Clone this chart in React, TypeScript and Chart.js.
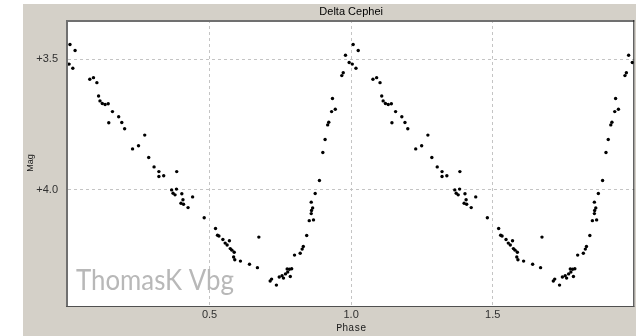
import React, { useEffect, useRef } from "react";
import { Chart, registerables } from "chart.js";

Chart.register(...registerables);

const TITLE = "Delta Cephei";
const X_LABEL = "Phase";
const Y_LABEL = "Mag";
const WATERMARK = "ThomasK Vbg";
const X_TICKS = [0.5, 1.0, 1.5];
const Y_TICKS = [3.5, 4.0];

// one folded cycle; plotted at phase and phase + 1
const phases = [
  0.007, 0.025, 0.004, 0.017, 0.077, 0.090, 0.102, 0.108, 0.113, 0.121,
  0.131, 0.142, 0.157, 0.144, 0.179, 0.190, 0.200, 0.271, 0.249, 0.228,
  0.285, 0.304, 0.321, 0.321, 0.338, 0.384, 0.366, 0.383, 0.371, 0.378,
  0.402, 0.406, 0.399, 0.408, 0.440, 0.424, 0.481, 0.521, 0.528, 0.533,
  0.547, 0.555, 0.570, 0.562, 0.573, 0.579, 0.587, 0.585, 0.589, 0.609,
  0.641, 0.669, 0.674, 0.714, 0.719, 0.736, 0.746, 0.756, 0.761, 0.768,
  0.776, 0.782, 0.790, 0.785, 0.774, 0.800, 0.820, 0.827, 0.831, 0.843,
  0.852, 0.867, 0.859, 0.860, 0.864, 0.859, 0.873, 0.888, 0.900, 0.908,
  0.917, 0.921, 0.931, 0.944, 0.934, 0.967, 0.972, 0.980, 0.993,
];
const mags = [
  3.443, 3.466, 3.518, 3.534, 3.576, 3.570, 3.589, 3.640, 3.659, 3.669,
  3.673, 3.670, 3.700, 3.743, 3.720, 3.742, 3.766, 3.790, 3.831, 3.843,
  3.876, 3.912, 3.930, 3.949, 3.946, 3.930, 4.000, 3.997, 4.013, 4.019,
  4.015, 4.038, 4.051, 4.055, 4.027, 4.068, 4.107, 4.148, 4.174, 4.177,
  4.190, 4.204, 4.195, 4.211, 4.225, 4.231, 4.239, 4.257, 4.268, 4.273,
  4.285, 4.298, 4.181, 4.349, 4.342, 4.365, 4.334, 4.329, 4.338, 4.322,
  4.315, 4.304, 4.302, 4.332, 4.303, 4.250, 4.243, 4.227, 4.217, 4.175,
  4.118, 4.115, 4.091, 4.079, 4.069, 4.047, 4.014, 3.964, 3.857, 3.807,
  3.751, 3.741, 3.700, 3.691, 3.650, 3.562, 3.551, 3.484, 3.512,
];

const framePlugin = {
  id: "framePlugin",
  beforeDraw(chart: any) {
    const { ctx, width, height, chartArea } = chart;
    ctx.save();
    ctx.fillStyle = "#ffffff";
    ctx.fillRect(0, 0, width, height);
    ctx.fillStyle = "#d4d0c8";
    ctx.fillRect(23, 4, width - 23, height - 4);
    ctx.fillStyle = "#ffffff";
    ctx.fillRect(chartArea.left - 2, chartArea.top, chartArea.right - chartArea.left + 2, chartArea.bottom - chartArea.top);
    ctx.fillStyle = "#000000";
    ctx.font = "11px 'Liberation Sans', Arial, sans-serif";
    ctx.textAlign = "center";
    ctx.textBaseline = "middle";
    ctx.fillText(TITLE, (chartArea.left + chartArea.right) / 2, 12);
    ctx.restore();
  },
  beforeDatasetsDraw(chart: any) {
    const { ctx, chartArea } = chart;
    ctx.save();
    ctx.font = "29px Lato, 'Open Sans', sans-serif";
    const w = ctx.measureText(WATERMARK).width;
    ctx.translate(chartArea.left + 8, 290);
    ctx.scale(158 / w, 1);
    ctx.fillStyle = "#b8b8b8";
    ctx.textAlign = "left";
    ctx.textBaseline = "alphabetic";
    ctx.fillText(WATERMARK, 0, 0);
    ctx.restore();
  },
  afterDraw(chart: any) {
    const { ctx, chartArea } = chart;
    const { left, top, right, bottom } = chartArea;
    ctx.save();
    ctx.fillStyle = "#707070";
    ctx.fillRect(left - 2, top, 2, bottom - top + 1);
    ctx.fillRect(left - 2, top, right - left + 2, 2);
    ctx.fillStyle = "#202020";
    ctx.fillRect(right - 1, top, 1, bottom - top + 1);
    ctx.fillStyle = "#505050";
    ctx.fillRect(left - 2, bottom, right - left + 2, 1);
    ctx.restore();
  },
};

export default function App() {
  const ref = useRef<HTMLCanvasElement | null>(null);

  useEffect(() => {
    document.body.style.margin = "0";
    const canvas = ref.current;
    if (!canvas) return;
    const points: { x: number; y: number }[] = [];
    for (let i = 0; i < phases.length; i++) {
      points.push({ x: phases[i], y: mags[i] });
    }
    for (let i = 0; i < phases.length; i++) {
      points.push({ x: phases[i] + 1, y: mags[i] });
    }
    const tickFont = { family: "'Liberation Sans Narrow', 'Liberation Sans', Arial, sans-serif", size: 11 };
    const chart = new Chart(canvas, {
      type: "scatter",
      data: {
        datasets: [
          {
            data: points,
            backgroundColor: "#000000",
            borderColor: "#000000",
            pointRadius: 1.7,
            pointBorderWidth: 0,
            pointHoverRadius: 1.7,
          },
        ],
      },
      options: {
        responsive: false,
        animation: false,
        devicePixelRatio: 1,
        layout: { padding: { left: 0, right: 0, top: 20, bottom: 0 } },
        plugins: {
          legend: { display: false },
          title: { display: false },
          tooltip: { enabled: false },
        },
        scales: {
          x: {
            type: "linear",
            min: 0,
            max: 2,
            afterBuildTicks: (scale: any) => {
              scale.ticks = X_TICKS.map((v) => ({ value: v }));
            },
            afterFit: (scale: any) => {
              scale.height = 30;
            },
            grid: { color: "#c4c4c4", drawTicks: false, lineWidth: 1 },
            border: { display: false, dash: [3, 3] },
            ticks: {
              padding: 2,
              color: "#303030",
              font: tickFont,
              callback: (v: any) => Number(v).toFixed(1),
            },
            title: {
              display: true,
              text: X_LABEL,
              color: "#202020",
              font: { family: "'Liberation Mono', 'Courier New', monospace", size: 10 },
              padding: { top: 0, bottom: 2 },
            },
          },
          y: {
            type: "linear",
            reverse: true,
            min: 3.349,
            max: 4.445,
            afterBuildTicks: (scale: any) => {
              scale.ticks = Y_TICKS.map((v) => ({ value: v }));
            },
            afterFit: (scale: any) => {
              scale.width = 68;
            },
            grid: { color: "#c4c4c4", drawTicks: false, lineWidth: 1 },
            border: { display: false, dash: [3, 3] },
            ticks: {
              padding: 10,
              color: "#303030",
              font: tickFont,
              callback: (v: any) => "+" + Number(v).toFixed(1),
            },
            title: {
              display: true,
              text: Y_LABEL,
              color: "#202020",
              font: { family: "'Liberation Sans', Arial, sans-serif", size: 9 },
              padding: { top: 25, bottom: 0 },
            },
          },
        },
      },
      plugins: [framePlugin],
    });
    return () => chart.destroy();
  }, []);

  return <canvas ref={ref} width={636} height={336} style={{ display: "block", width: 636, height: 336 }} />;
}
